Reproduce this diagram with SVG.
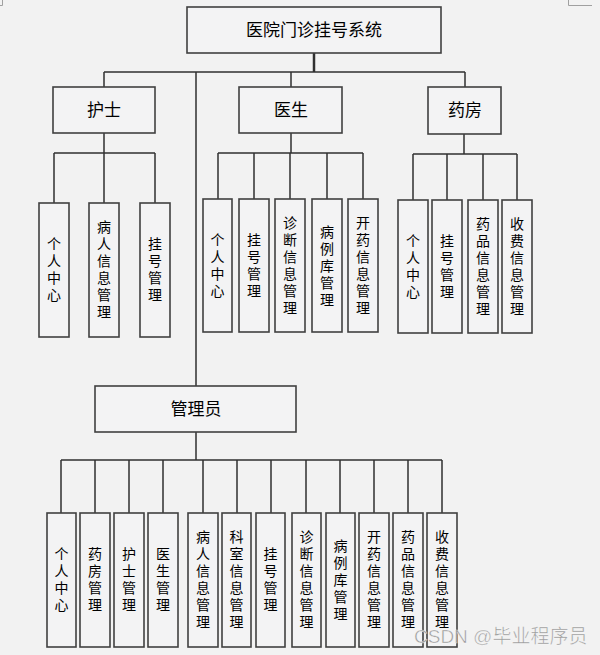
<svg xmlns="http://www.w3.org/2000/svg" width="600" height="655" viewBox="0 0 600 655">
<style>
  .bg{fill:#f2f2f2}
  .box{fill:#f3f3f4;stroke:#404040;stroke-width:1.6}
  .ln{fill:none;stroke:#303030;stroke-width:1.5}
  .t1{font-family:"Noto Sans CJK SC","Liberation Sans",sans-serif;font-size:17px;fill:#000;text-anchor:middle}
  .t2{font-family:"Noto Sans CJK SC","Liberation Sans",sans-serif;font-size:14px;fill:#000;text-anchor:middle;writing-mode:vertical-rl;letter-spacing:3px}
  .mk{fill:none;stroke:#a0a0a0;stroke-width:1}
  .wm{font-family:"Liberation Sans","Noto Sans CJK SC",sans-serif;font-size:19px;fill:#8c8c8c;fill-opacity:0.85;stroke:#ffffff;stroke-width:0.6;stroke-opacity:0.7}
</style>
<rect class="bg" x="0" y="0" width="600" height="655"/>
<path class="mk" d="M2.5,0 V5.5 H0 M568.5,0 V5.5 H592"/>

<g id="connectors">
  <path class="ln" d="M314,53 V72" style="stroke-width:2.5"/>
  <path class="ln" d="M104,72 H465 M104,72 V87 M291,72 V87 M465,72 V87 M196,72 V386"/>
  <path class="ln" d="M104,133 V153 M54,153 H155 M54,153 V203 M104,153 V203 M155,153 V203"/>
  <path class="ln" d="M291,133 V153 M218,153 H363 M218,153 V199 M254,153 V199 M290,153 V199 M327,153 V199 M363,153 V199"/>
  <path class="ln" d="M464,134 V154 M413,154 H517 M413,154 V200 M447,154 V200 M483,154 V200 M517,154 V200"/>
  <path class="ln" d="M196,432 V460 M61,460 H442 M61,460 V513 M95,460 V513 M129,460 V513 M163,460 V513 M203,460 V513 M237,460 V513 M271,460 V513 M306,460 V513 M340,460 V513 M374,460 V513 M408,460 V513 M442,460 V513"/>
</g>

<g id="root"><rect class="box" x="187" y="7" width="254" height="46"/><text class="t1" x="314" y="36">医院门诊挂号系统</text></g>
<g id="nurse"><rect class="box" x="53" y="87" width="102" height="46"/><text class="t1" x="104" y="116">护士</text></g>
<g id="doctor"><rect class="box" x="239" y="87" width="103" height="46"/><text class="t1" x="291" y="116">医生</text></g>
<g id="pharmacy"><rect class="box" x="428" y="87" width="73" height="47"/><text class="t1" x="465" y="116">药房</text></g>
<g id="admin"><rect class="box" x="95" y="386" width="201" height="46"/><text class="t1" x="196" y="415">管理员</text></g>

<!-- nurse children -->
<g id="n1"><rect class="box" x="39" y="203" width="30" height="134"/><text class="t2" x="54" y="271">个人中心</text></g>
<g id="n2"><rect class="box" x="89" y="203" width="30" height="134"/><text class="t2" x="104" y="271">病人信息管理</text></g>
<g id="n3"><rect class="box" x="140" y="203" width="30" height="134"/><text class="t2" x="155" y="271">挂号管理</text></g>

<!-- doctor children -->
<g id="d1"><rect class="box" x="203" y="199" width="29" height="133"/><text class="t2" x="217.5" y="267">个人中心</text></g>
<g id="d2"><rect class="box" x="239" y="199" width="30" height="133"/><text class="t2" x="254" y="267">挂号管理</text></g>
<g id="d3"><rect class="box" x="275" y="199" width="30" height="133"/><text class="t2" x="290" y="267">诊断信息管理</text></g>
<g id="d4"><rect class="box" x="312" y="199" width="30" height="133"/><text class="t2" x="327" y="267">病例库管理</text></g>
<g id="d5"><rect class="box" x="348" y="199" width="30" height="133"/><text class="t2" x="363" y="267">开药信息管理</text></g>

<!-- pharmacy children -->
<g id="p1"><rect class="box" x="398" y="200" width="30" height="133"/><text class="t2" x="413" y="268">个人中心</text></g>
<g id="p2"><rect class="box" x="432" y="200" width="30" height="133"/><text class="t2" x="447" y="268">挂号管理</text></g>
<g id="p3"><rect class="box" x="468" y="200" width="30" height="133"/><text class="t2" x="483" y="268">药品信息管理</text></g>
<g id="p4"><rect class="box" x="502" y="200" width="30" height="133"/><text class="t2" x="517" y="268">收费信息管理</text></g>

<!-- admin children -->
<g id="a1"><rect class="box" x="47" y="513" width="29" height="134"/><text class="t2" x="61.5" y="581">个人中心</text></g>
<g id="a2"><rect class="box" x="80" y="513" width="30" height="134"/><text class="t2" x="95" y="581">药房管理</text></g>
<g id="a3"><rect class="box" x="114" y="513" width="30" height="134"/><text class="t2" x="129" y="581">护士管理</text></g>
<g id="a4"><rect class="box" x="148" y="513" width="30" height="134"/><text class="t2" x="163" y="581">医生管理</text></g>
<g id="a5"><rect class="box" x="188" y="513" width="30" height="134"/><text class="t2" x="203" y="581">病人信息管理</text></g>
<g id="a6"><rect class="box" x="222" y="513" width="29" height="134"/><text class="t2" x="236.5" y="581">科室信息管理</text></g>
<g id="a7"><rect class="box" x="256" y="513" width="29" height="134"/><text class="t2" x="270.5" y="581">挂号管理</text></g>
<g id="a8"><rect class="box" x="292" y="513" width="29" height="134"/><text class="t2" x="306.5" y="581">诊断信息管理</text></g>
<g id="a9"><rect class="box" x="326" y="513" width="29" height="134"/><text class="t2" x="340.5" y="581">病例库管理</text></g>
<g id="a10"><rect class="box" x="359" y="513" width="30" height="134"/><text class="t2" x="374" y="581">开药信息管理</text></g>
<g id="a11"><rect class="box" x="393" y="513" width="30" height="134"/><text class="t2" x="408" y="581">药品信息管理</text></g>
<g id="a12"><rect class="box" x="427" y="513" width="30" height="134"/><text class="t2" x="442" y="581">收费信息管理</text></g>

<text class="wm" x="414" y="643">CSDN @毕业程序员</text>
</svg>
